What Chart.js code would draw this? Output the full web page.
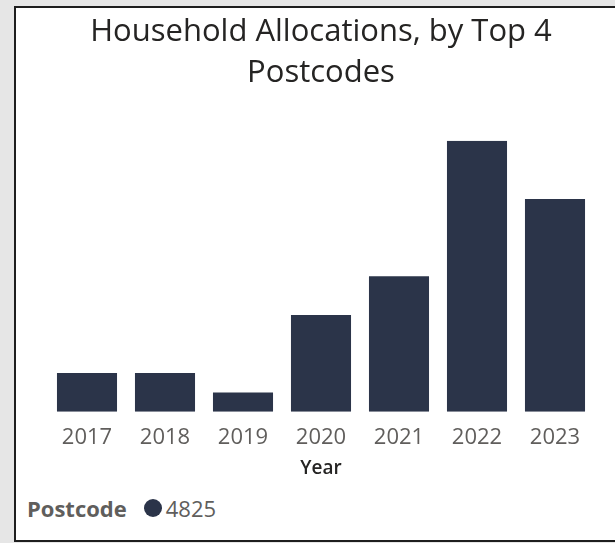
<!DOCTYPE html>
<html lang="en">
  <head>
    <meta charset="UTF-8" />
    <title>Household Allocations</title>
    <style>
      body {
        margin: 0;
        background: #e6e6e6;
        width: 615px;
        height: 543px;
        overflow: hidden;
        position: relative;
        font-family: "Open Sans", sans-serif;
      }
      .panel {
        position: absolute;
        left: 14px;
        top: 6px;
        width: 620px;
        height: 532px;
        background: #fff;
        border: 2px solid #1e1e1e;
      }
      #chart {
        position: absolute;
        left: 0;
        top: 0;
      }
      .legend {
        position: absolute;
        left: 27px;
        top: 493px;
        font-size: 22px;
        line-height: 30px;
        color: #605e5c;
        display: flex;
        align-items: center;
      }
      .legend b {
        font-weight: 700;
        margin-right: 17px;
      }
      .legend .dot {
        width: 18px;
        height: 18px;
        border-radius: 50%;
        background: #2b3449;
        margin-right: 4px;
      }
    </style>
  </head>
  <body>
    <div class="panel"></div>
    <canvas id="chart" width="615" height="490"></canvas>
    <div class="legend">
      <b>Postcode</b><span class="dot"></span><span>4825</span>
    </div>

    <script src="https://cdn.jsdelivr.net/npm/chart.js"></script>
    <script>
      // data (relative heights, no value axis shown)
      const years = ["2017", "2018", "2019", "2020", "2021", "2022", "2023"];
      const allocations = [2, 2, 1, 5, 7, 14, 11];
      const postcode = "4825";

      const ctx = document.getElementById("chart").getContext("2d");
      const chart = new Chart(ctx, {
        type: "bar",
        data: {
          labels: years,
          datasets: [
            {
              label: postcode,
              data: allocations,
              backgroundColor: "#2b3449",
              barPercentage: 1,
              categoryPercentage: 0.77,
            },
          ],
        },
        options: {
          responsive: false,
          animation: false,
          layout: { padding: { left: 48, right: 21, top: 12, bottom: 10 } },
          scales: {
            x: {
              grid: { display: false, drawTicks: false },
              border: { display: false },
              ticks: {
                color: "#605e5c",
                font: { family: "Open Sans", size: 22 },
                padding: 13,
              },
              title: {
                display: true,
                text: "Year",
                color: "#252423",
                font: { family: "Open Sans", size: 19, weight: "600" },
                padding: { top: -7, bottom: 0 },
              },
            },
            y: {
              display: false,
              min: 0,
              max: 14,
            },
          },
          plugins: {
            legend: { display: false },
            tooltip: { enabled: false },
            title: {
              display: true,
              text: ["Household Allocations, by Top 4", "Postcodes"],
              color: "#252423",
              font: { family: "Open Sans", size: 31, weight: "normal", lineHeight: 1.32 },
              padding: { top: 0, bottom: 47 },
            },
          },
        },
      });
    </script>
  </body>
</html>
